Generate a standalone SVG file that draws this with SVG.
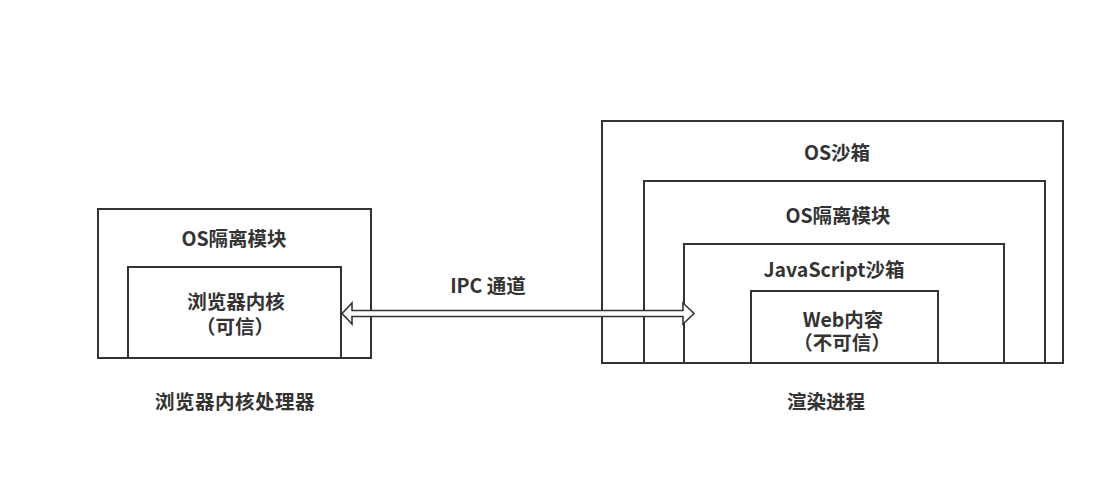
<svg xmlns="http://www.w3.org/2000/svg" width="1102" height="502" viewBox="0 0 1102 502">
<style>
.box{fill:#fff;stroke:#333;stroke-width:2}
.t{font-family:"Noto Sans CJK SC","Noto Sans",sans-serif;font-weight:bold;font-size:19.5px;fill:#333;text-anchor:middle}
.arrow{fill:#fff;stroke:#333;stroke-width:1.6;stroke-linejoin:miter}
</style>
<rect width="1102" height="502" fill="#fff"/>
<g id="left-outer"><rect class="box" x="98" y="209" width="273" height="149"/><text class="t" x="234" y="246">OS隔离模块</text></g>
<g id="left-inner"><rect class="box" x="128" y="267" width="213" height="91"/><text class="t" x="236" y="309">浏览器内核</text><text class="t" x="235" y="334">（可信）</text></g>
<g id="left-label"><text class="t" x="235" y="409" letter-spacing="0.5">浏览器内核处理器</text></g>
<g id="os-sandbox"><rect class="box" x="602" y="121" width="461" height="242"/><text class="t" x="837" y="160">OS沙箱</text></g>
<g id="os-isolation"><rect class="box" x="644" y="181" width="401" height="182"/><text class="t" x="838" y="223">OS隔离模块</text></g>
<g id="js-sandbox"><rect class="box" x="684" y="244" width="320" height="119"/><text class="t" x="834" y="277">JavaScript沙箱</text></g>
<g id="web-content"><rect class="box" x="751" y="291" width="187" height="72"/><text class="t" x="843" y="327">Web内容</text><text class="t" x="842" y="350">（不可信）</text></g>
<g id="right-label"><text class="t" x="826" y="409">渲染进程</text></g>
<g id="connectors">
<polygon class="arrow" points="342,313.5 352,303 352,310.5 683,310.5 683,303 694,313.5 683,324 683,316.5 352,316.5 352,324"/>
<text class="t" x="488" y="293">IPC 通道</text>
</g>
</svg>
